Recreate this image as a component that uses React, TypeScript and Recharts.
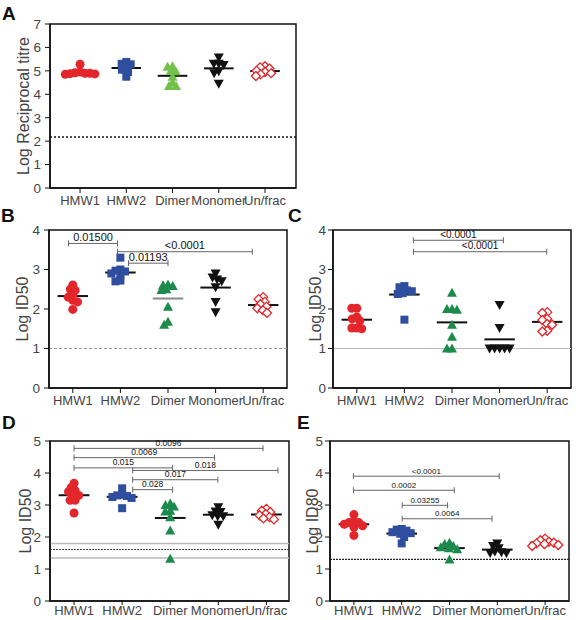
import React from 'react';
import { ScatterChart, Scatter, XAxis, YAxis, ReferenceLine, ReferenceArea } from 'recharts';

const categories = ['HMW1', 'HMW2', 'Dimer', 'Monomer', 'Un/frac'];

// A: log reciprocal titre
const aHmw1 = [5.28, 4.95, 4.92, 4.9, 4.9, 4.88, 4.87, 4.85];
const aHmw2 = [5.38, 5.3, 5.28, 5.15, 5.05, 4.95, 4.75];
const aDimer = [5.2, 5.18, 5.0, 4.98, 4.75, 4.5, 4.35, 4.35];
const aMonomer = [5.57, 5.3, 5.3, 5.25, 4.98, 4.9, 4.45];
const aUnfrac = [5.2, 5.15, 5.1, 5.0, 4.95, 4.9, 4.85, 4.78];
const aCutoff = [2.18];

// B: log ID50
const bHmw1 = [2.61, 2.5, 2.47, 2.35, 2.3, 2.22, 2.18, 1.99];
const bHmw2 = [3.3, 3.0, 2.97, 2.95, 2.9, 2.85, 2.72, 2.7];
const bDimer = [2.62, 2.6, 2.58, 2.5, 2.48, 2.06, 1.68, 1.6];
const bMonomer = [2.9, 2.8, 2.75, 2.7, 2.55, 2.18, 1.92];
const bUnfrac = [2.3, 2.25, 2.18, 2.12, 2.06, 2.02, 1.97, 1.9];
const bCutoff = [1.0];
const bPvalues = [
  { from: 0.91, to: 1.94, y: 3.66, label: '0.01500' },
  { from: 1.94, to: 4.77, y: 3.45, label: '<0.0001' },
  { from: 2.17, to: 3.0, y: 3.16, label: '0.01193' },
];

// C: log ID50
const cHmw1 = [2.02, 2.02, 1.8, 1.75, 1.7, 1.52, 1.52, 1.5];
const cHmw2 = [2.58, 2.55, 2.47, 2.45, 2.4, 2.38, 1.73];
const cDimer = [2.41, 2.0, 2.0, 1.98, 1.6, 1.3, 1.0, 1.0];
const cMonomer = [2.1, 1.52, 1.0, 1.0, 1.0, 1.0, 1.0];
const cUnfrac = [1.92, 1.9, 1.75, 1.72, 1.62, 1.6, 1.45, 1.43];
const cCutoff = [1.0];
const cPvalues = [
  { from: 2.19, to: 4.08, y: 3.74, label: '<0.0001' },
  { from: 2.19, to: 4.99, y: 3.45, label: '<0.0001' },
];

// D: log ID50
const dHmw1 = [3.68, 3.55, 3.45, 3.42, 3.3, 3.3, 3.15, 3.15, 2.75];
const dHmw2 = [3.52, 3.32, 3.3, 3.28, 3.25, 3.22, 2.9];
const dDimer = [3.05, 3.0, 2.95, 2.82, 2.8, 2.62, 2.2, 1.32];
const dMonomer = [2.93, 2.8, 2.78, 2.68, 2.65, 2.65, 2.38];
const dUnfrac = [2.88, 2.82, 2.78, 2.72, 2.68, 2.62, 2.58, 2.55];
const dCutoffs = [1.8, 1.61, 1.34];
const dPvalues = [
  { from: 1.0, to: 4.93, y: 4.77, label: '0.0096' },
  { from: 1.0, to: 3.92, y: 4.48, label: '0.0069' },
  { from: 1.0, to: 3.05, y: 4.16, label: '0.015' },
  { from: 2.22, to: 5.24, y: 4.08, label: '0.018' },
  { from: 2.22, to: 3.99, y: 3.79, label: '0.017' },
  { from: 2.22, to: 3.05, y: 3.48, label: '0.028' },
];

// E: log ID80
const eHmw1 = [2.7, 2.48, 2.45, 2.45, 2.4, 2.35, 2.3, 2.05];
const eHmw2 = [2.25, 2.23, 2.2, 2.15, 2.12, 2.1, 2.0, 1.8];
const eDimer = [1.82, 1.78, 1.72, 1.68, 1.65, 1.62, 1.3];
const eMonomer = [1.8, 1.72, 1.65, 1.55, 1.52, 1.5, 1.5];
const eUnfrac = [1.95, 1.9, 1.85, 1.82, 1.8, 1.78, 1.75, 1.72];
const eCutoff = [1.3];
const ePvalues = [
  { from: 0.99, to: 4.04, y: 3.9, label: '<0.0001' },
  { from: 0.99, to: 3.1, y: 3.46, label: '0.0002' },
  { from: 2.01, to: 2.96, y: 2.99, label: '0.03255' },
  { from: 2.01, to: 3.89, y: 2.57, label: '0.0064' },
];

const FONT = '"Liberation Sans", Arial, Helvetica, sans-serif';
const RED = '#e3262b';
const BLUE = '#2f4e9e';
const BLACK = '#111';
const YW = 45;
const MT = 8;
const MR = 8;
const XH = 26;

const circle = (c: string) => (p: any) => <circle cx={p.cx} cy={p.cy} r={4.5} fill={c} />;
const square = (c: string) => (p: any) => <rect x={p.cx - 4} y={p.cy - 4} width={8} height={8} fill={c} />;
const triUp = (c: string) => (p: any) => (
  <path d={`M${p.cx},${p.cy - 5}L${p.cx + 5},${p.cy + 4}L${p.cx - 5},${p.cy + 4}Z`} fill={c} />
);
const triDown = (c: string) => (p: any) => (
  <path d={`M${p.cx},${p.cy + 5}L${p.cx + 5},${p.cy - 4}L${p.cx - 5},${p.cy - 4}Z`} fill={c} />
);
const diamond = (c: string) => (p: any) => (
  <path
    d={`M${p.cx},${p.cy - 4.5}L${p.cx + 4.5},${p.cy}L${p.cx},${p.cy + 4.5}L${p.cx - 4.5},${p.cy}Z`}
    fill="#fff"
    stroke={c}
    strokeWidth={1.3}
  />
);

// simple beeswarm: spread points sideways so they don't pile up (collision in px)
function swarm(vals: number[], center: number, sx: number, sy: number, d: number) {
  const placed: { px: number; py: number }[] = [];
  const out: { x: number; y: number }[] = [];
  const order = vals.map((_, i) => i).sort((a, b) => vals[b] - vals[a]);
  for (const i of order) {
    const py = vals[i] * sy;
    const blocks: [number, number][] = [];
    for (const p of placed) {
      const dy = Math.abs(p.py - py);
      if (dy < d) {
        const w = Math.sqrt(d * d - dy * dy);
        blocks.push([p.px - w, p.px + w]);
      }
    }
    const cands = [0];
    blocks.forEach(([a, b]) => cands.push(a, b));
    cands.sort((a, b) => Math.abs(a) - Math.abs(b));
    let px = 0;
    for (const c of cands) {
      if (blocks.every(([a, b]) => c <= a + 1e-6 || c >= b - 1e-6)) {
        px = c;
        break;
      }
    }
    placed.push({ px, py });
    out.push({ x: center + px / sx, y: vals[i] });
  }
  return out;
}

const mean = (v: number[]) => v.reduce((s, x) => s + x, 0) / v.length;

type Ref = { y: number; stroke: string; dash?: string; width: number };
type Pv = { from: number; to: number; y: number; label: string };

const bracket = (text: string, fs: number) => (p: any) => {
  const { x1, y1, x2 } = p;
  return (
    <g>
      <path
        d={`M${x1},${y1 - 3}V${y1 + 3}M${x1},${y1}H${x2}M${x2},${y1 - 3}V${y1 + 3}`}
        stroke="#666"
        strokeWidth={1}
        fill="none"
      />
      <text x={(x1 + x2) / 2} y={y1 - 2.5} textAnchor="middle" fontSize={fs} fill="#111">
        {text}
      </text>
    </g>
  );
};

type PanelProps = {
  left: number;
  top: number;
  w: number;
  h: number;
  xDomain: [number, number];
  yMax: number;
  yLabel: string;
  labelGap: number;
  groups: number[][];
  green: string;
  meanColors?: string[];
  refs: Ref[];
  pvalues: Pv[];
  pvFont: number;
  tickMargin: number;
  xTick: [number, number];
};

function Panel(props: PanelProps) {
  const { left, top, w, h, xDomain, yMax, yLabel, labelGap, groups, green, refs, pvalues, pvFont } = props;
  const sx = w / (xDomain[1] - xDomain[0]);
  const sy = h / yMax;
  const shapes = [circle(RED), square(BLUE), triUp(green), triDown(BLACK), diamond(RED)];
  const yTicks = Array.from({ length: yMax + 1 }, (_, i) => i);
  const cx = YW - labelGap;
  const cy = MT + h / 2;
  return (
    <div style={{ position: 'absolute', left: left - YW, top: top - MT }}>
      <ScatterChart width={YW + w + MR} height={MT + h + XH} margin={{ top: MT, right: MR, left: 0, bottom: 0 }}>
        <XAxis
          type="number"
          dataKey="x"
          domain={xDomain}
          ticks={[1, 2, 3, 4, 5]}
          interval={0}
          allowDataOverflow
          tickFormatter={(v: number) => categories[Math.round(v) - 1]}
          height={XH}
          tickSize={props.xTick[0]}
          tickMargin={props.xTick[1]}
          axisLine={{ stroke: BLACK, strokeWidth: 1.5 }}
          tickLine={{ stroke: BLACK }}
          tick={{ fontSize: 13, fill: '#444' }}
        />
        <YAxis
          type="number"
          dataKey="y"
          domain={[0, yMax]}
          ticks={yTicks}
          interval={0}
          allowDataOverflow
          width={YW}
          tickSize={5}
          tickMargin={props.tickMargin}
          axisLine={{ stroke: BLACK, strokeWidth: 1.5 }}
          tickLine={{ stroke: BLACK }}
          tick={{ fontSize: 13.5, fill: '#444' }}
          label={{
            content: () => (
              <text
                x={cx}
                y={cy}
                transform={`rotate(-90 ${cx} ${cy})`}
                textAnchor="middle"
                dominantBaseline="central"
                fontSize={16}
                fill="#444"
              >
                {yLabel}
              </text>
            ),
          }}
        />
        <ReferenceArea
          x1={xDomain[0]}
          x2={xDomain[1]}
          y1={0}
          y2={yMax}
          fill="none"
          fillOpacity={0}
          stroke={BLACK}
          strokeWidth={1.5}
          ifOverflow="visible"
        />
        {refs.map((r, i) => (
          <ReferenceLine key={'r' + i} y={r.y} stroke={r.stroke} strokeDasharray={r.dash} strokeWidth={r.width} />
        ))}
        {groups.map((g, i) => (
          <Scatter
            key={'s' + i}
            data={swarm(g, i + 1, sx, sy, 5)}
            shape={shapes[i]}
            isAnimationActive={false}
          />
        ))}
        {groups.map((g, i) => (
          <ReferenceLine
            key={'m' + i}
            segment={[
              { x: i + 1 - 0.32, y: mean(g) },
              { x: i + 1 + 0.32, y: mean(g) },
            ]}
            stroke={props.meanColors ? props.meanColors[i] : BLACK}
            strokeWidth={2}
            ifOverflow="visible"
          />
        ))}
        {pvalues.map((b, i) => (
          <ReferenceLine
            key={'b' + i}
            segment={[
              { x: b.from, y: b.y },
              { x: b.to, y: b.y },
            ]}
            ifOverflow="visible"
            shape={bracket(b.label, pvFont)}
          />
        ))}
      </ScatterChart>
    </div>
  );
}

const letterStyle = (l: number, t: number): React.CSSProperties => ({
  position: 'absolute',
  left: l,
  top: t,
  fontSize: 19,
  fontWeight: 'bold',
  lineHeight: '19px',
  color: '#111',
});

export default function App() {
  const dark = '#1b8a4a';
  return (
    <div
      style={{ position: 'absolute', left: 0, top: 0, width: 583, height: 620, background: '#fff', fontFamily: FONT, overflow: 'hidden' }}
    >
      <Panel
        left={50} top={24} w={246} h={164} xDomain={[0.35, 5.67]} yMax={7}
        yLabel="Log Reciprocal titre" labelGap={27} tickMargin={4} xTick={[5, 3]}
        groups={[aHmw1, aHmw2, aDimer, aMonomer, aUnfrac]} green="#72c04a"
        refs={[{ y: aCutoff[0], stroke: BLACK, dash: '2 2', width: 1.5 }]}
        pvalues={[]} pvFont={10}
      />
      <Panel
        left={49} top={230} w={238} h={158} xDomain={[0.5, 5.5]} yMax={4}
        yLabel="Log ID50" labelGap={27} tickMargin={4} xTick={[5, 3]}
        groups={[bHmw1, bHmw2, bDimer, bMonomer, bUnfrac]} green={dark}
        meanColors={[BLACK, BLACK, '#888', BLACK, BLACK]}
        refs={[{ y: bCutoff[0], stroke: '#999', dash: '3 2', width: 1 }]}
        pvalues={bPvalues} pvFont={11}
      />
      <Panel
        left={333} top={230} w={238} h={158} xDomain={[0.5, 5.5]} yMax={4}
        yLabel="Log ID50" labelGap={18} tickMargin={2} xTick={[5, 3]}
        groups={[cHmw1, cHmw2, cDimer, cMonomer, cUnfrac]} green={dark}
        refs={[{ y: cCutoff[0], stroke: '#bbb', width: 1 }]}
        pvalues={cPvalues} pvFont={10}
      />
      <Panel
        left={50} top={441} w={239} h={160} xDomain={[0.5, 5.47]} yMax={5}
        yLabel="Log ID50" labelGap={25} tickMargin={4} xTick={[4, 1]}
        groups={[dHmw1, dHmw2, dDimer, dMonomer, dUnfrac]} green={dark}
        refs={[
          { y: dCutoffs[0], stroke: '#bbb', width: 1.5 },
          { y: dCutoffs[1], stroke: '#444', dash: '2 1', width: 1 },
          { y: dCutoffs[2], stroke: '#bbb', width: 1.5 },
        ]}
        pvalues={dPvalues} pvFont={8.5}
      />
      <Panel
        left={330} top={441} w={239} h={160} xDomain={[0.5, 5.5]} yMax={5}
        yLabel="Log ID80" labelGap={18} tickMargin={2} xTick={[4, 1]}
        groups={[eHmw1, eHmw2, eDimer, eMonomer, eUnfrac]} green={dark}
        refs={[{ y: eCutoff[0], stroke: '#222', dash: '2 1', width: 1.2 }]}
        pvalues={ePvalues} pvFont={8}
      />
      <div style={letterStyle(2, 4)}>A</div>
      <div style={letterStyle(1, 206)}>B</div>
      <div style={letterStyle(288, 206)}>C</div>
      <div style={letterStyle(2, 413)}>D</div>
      <div style={letterStyle(297, 413)}>E</div>
    </div>
  );
}
